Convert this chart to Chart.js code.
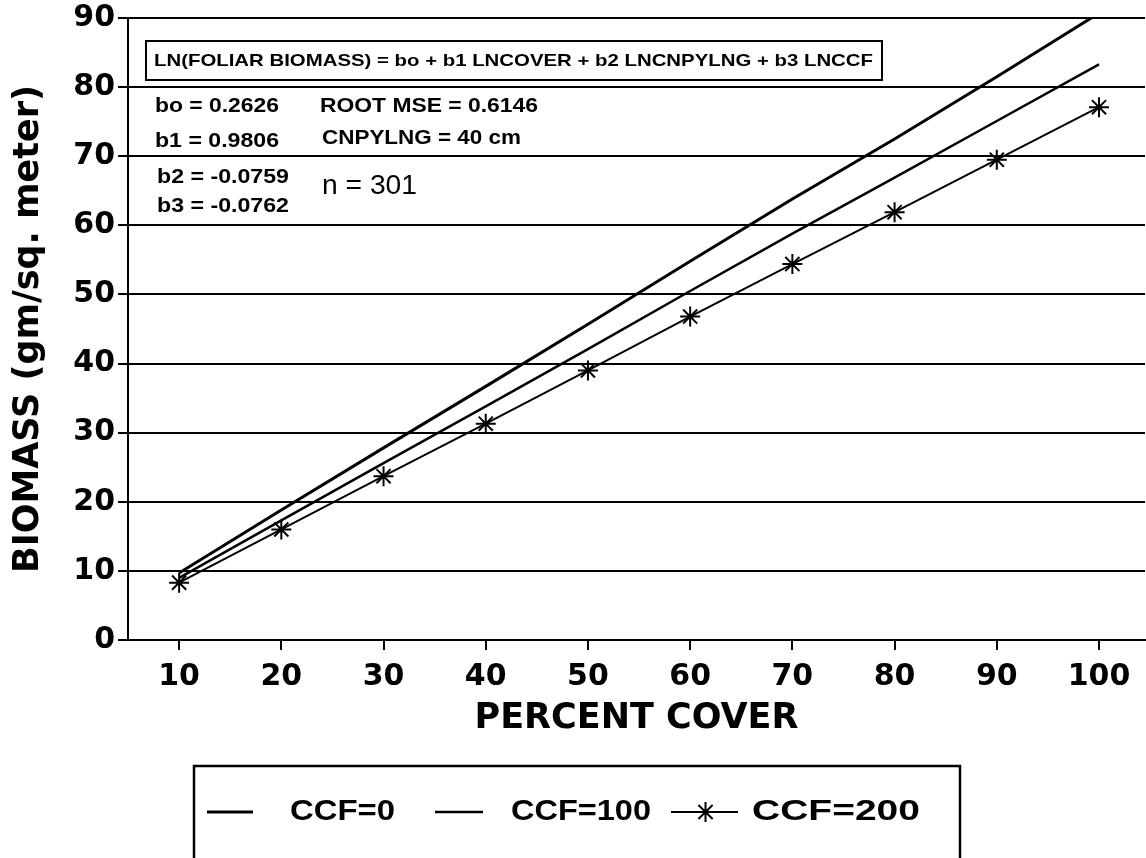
<!DOCTYPE html>
<html><head><meta charset="utf-8">
<script src="https://cdn.jsdelivr.net/npm/chart.js@4.4.1/dist/chart.umd.min.js"></script>
<style>html,body{margin:0;padding:0;background:#fff}#wrap{width:1146px;height:858px;position:relative}</style>
</head><body><div id="wrap"><canvas id="c" width="1146" height="858"></canvas></div>
<script>
// ---- data ----
const coverValues = [10, 20, 30, 40, 50, 60, 70, 80, 90, 100];
const ccf0 = [9.7, 18.8, 27.8, 36.7, 45.7, 54.8, 63.8, 72.5, 81.5, 90.7];
const ccf100 = [9.0, 17.3, 25.6, 33.8, 42.1, 50.5, 58.8, 66.9, 75.1, 83.3];
const ccf200 = [8.3, 16.0, 23.7, 31.3, 39.0, 46.8, 54.4, 61.9, 69.5, 77.1];
const seriesLabels = ['CCF=0', 'CCF=100', 'CCF=200'];
const xTicks = [10, 20, 30, 40, 50, 60, 70, 80, 90, 100];
const yTicks = [0, 10, 20, 30, 40, 50, 60, 70, 80, 90];
const xTitle = 'PERCENT COVER';
const yTitle = 'BIOMASS (gm/sq. meter)';
const equationText = 'LN(FOLIAR BIOMASS) = bo + b1 LNCOVER + b2 LNCNPYLNG + b3 LNCCF';
const coefLines = ['bo = 0.2626', 'b1 = 0.9806', 'b2 = -0.0759', 'b3 = -0.0762'];
const statLines = ['ROOT MSE = 0.6146', 'CNPYLNG = 40 cm'];
const nText = 'n = 301';

const toPts = arr => coverValues.map((x, i) => ({x: x, y: arr[i]}));
const FAM = "'DejaVu Sans', sans-serif";
const HFAM = "'Liberation Sans', Arial, sans-serif";

function fitText(ctx, text, left, cy, width, font) {
  ctx.save();
  ctx.font = font;
  ctx.fillStyle = '#000';
  ctx.textBaseline = 'middle';
  ctx.textAlign = 'left';
  const w = ctx.measureText(text).width;
  ctx.translate(left, cy);
  ctx.scale(width / w, 1);
  ctx.fillText(text, 0, 0);
  ctx.restore();
}

const annotations = {
  id: 'annotations',
  afterDraw(chart) {
    const ctx = chart.ctx;
    // equation box
    ctx.save();
    ctx.fillStyle = '#fff';
    ctx.fillRect(146, 41, 736, 39);
    ctx.strokeStyle = '#000';
    ctx.lineWidth = 2;
    ctx.strokeRect(146, 41, 736, 39);
    ctx.restore();
    fitText(ctx, equationText, 154, 61, 719, 'bold 17px ' + HFAM);
    const cy = [106, 141, 177, 206];
    const cw = [124, 124, 132, 132];
    const cx = [155, 155, 157, 157];
    coefLines.forEach((t, i) => fitText(ctx, t, cx[i], cy[i], cw[i], 'bold 21px ' + HFAM));
    fitText(ctx, statLines[0], 320, 106, 218, 'bold 21px ' + HFAM);
    fitText(ctx, statLines[1], 322, 138, 199, 'bold 21px ' + HFAM);
    fitText(ctx, nText, 322, 187, 95, '27px ' + HFAM);

    // legend box
    ctx.save();
    ctx.strokeStyle = '#000';
    ctx.lineWidth = 2.5;
    ctx.beginPath();
    ctx.moveTo(194, 870);
    ctx.lineTo(194, 766);
    ctx.lineTo(960, 766);
    ctx.lineTo(960, 870);
    ctx.stroke();
    ctx.restore();
    const ly = 812;
    const ds = chart.data.datasets;
    const lines = [[207, 253], [435, 483], [671, 738]];
    const texts = [[290, 105], [511, 140], [752, 168]];
    ds.forEach((d, i) => {
      ctx.save();
      ctx.strokeStyle = d.borderColor;
      ctx.lineWidth = d.borderWidth;
      ctx.beginPath();
      ctx.moveTo(lines[i][0], ly);
      ctx.lineTo(lines[i][1], ly);
      ctx.stroke();
      if (d.pointRadius > 0) {
        ctx.lineWidth = d.pointBorderWidth;
        Chart.helpers.drawPoint(ctx, {pointStyle: d.pointStyle, radius: d.pointRadius, rotation: 0, borderWidth: d.pointBorderWidth}, (lines[i][0] + lines[i][1]) / 2 + 1, ly);
      }
      ctx.restore();
      fitText(ctx, d.label, texts[i][0], ly, texts[i][1], 'bold 30px ' + HFAM);
    });
  }
};

new Chart(document.getElementById('c'), {
  type: 'line',
  data: {
    datasets: [
      {label: seriesLabels[0], data: toPts(ccf0), borderColor: '#000', borderWidth: 3, pointRadius: 0, tension: 0, clip: 0},
      {label: seriesLabels[1], data: toPts(ccf100), borderColor: '#000', borderWidth: 2.5, pointRadius: 0, tension: 0, clip: 0},
      {label: seriesLabels[2], data: toPts(ccf200), borderColor: '#000', borderWidth: 2, pointStyle: 'star', pointRadius: 10, pointBorderWidth: 2, pointBorderColor: '#000', pointBackgroundColor: '#000', tension: 0, clip: 0}
    ]
  },
  options: {
    responsive: false,
    devicePixelRatio: 1,
    animation: false,
    layout: {autoPadding: false, padding: {top: 18, right: 1, bottom: 118, left: 0}},
    plugins: {legend: {display: false}, tooltip: {enabled: false}},
    scales: {
      x: {
        type: 'linear', min: 5, max: 104.5,
        afterBuildTicks: s => { s.ticks = xTicks.map(v => ({value: v})); },
        afterFit: s => { s.height = 100; s.paddingRight = 0; s.paddingLeft = 0; },
        grid: {drawOnChartArea: false, drawTicks: true, tickLength: 10, color: '#000', lineWidth: 2},
        border: {display: true, color: '#000', width: 2},
        ticks: {color: '#000', font: {family: FAM, size: 30, weight: 'bold'}, padding: 9, maxRotation: 0, autoSkip: false},
        title: {display: true, text: xTitle, color: '#000', font: {family: FAM, size: 35, weight: 'bold'}, padding: {top: 0, bottom: 0}}
      },
      y: {
        type: 'linear', min: 0, max: 90,
        afterBuildTicks: s => { s.ticks = yTicks.map(v => ({value: v})); },
        afterFit: s => { s.width = 128; s.paddingTop = 0; s.paddingBottom = 0; },
        grid: {drawOnChartArea: true, drawTicks: true, tickLength: 10, color: '#000', lineWidth: 2},
        border: {display: true, color: '#000', width: 2},
        ticks: {color: '#000', font: {family: FAM, size: 30, weight: 'bold'}, padding: 3, autoSkip: false},
        title: {display: true, text: yTitle, color: '#000', font: {family: FAM, size: 35, weight: 'bold'}, padding: {top: 8, bottom: 0}}
      }
    }
  },
  plugins: [annotations]
});
</script>
</body></html>
